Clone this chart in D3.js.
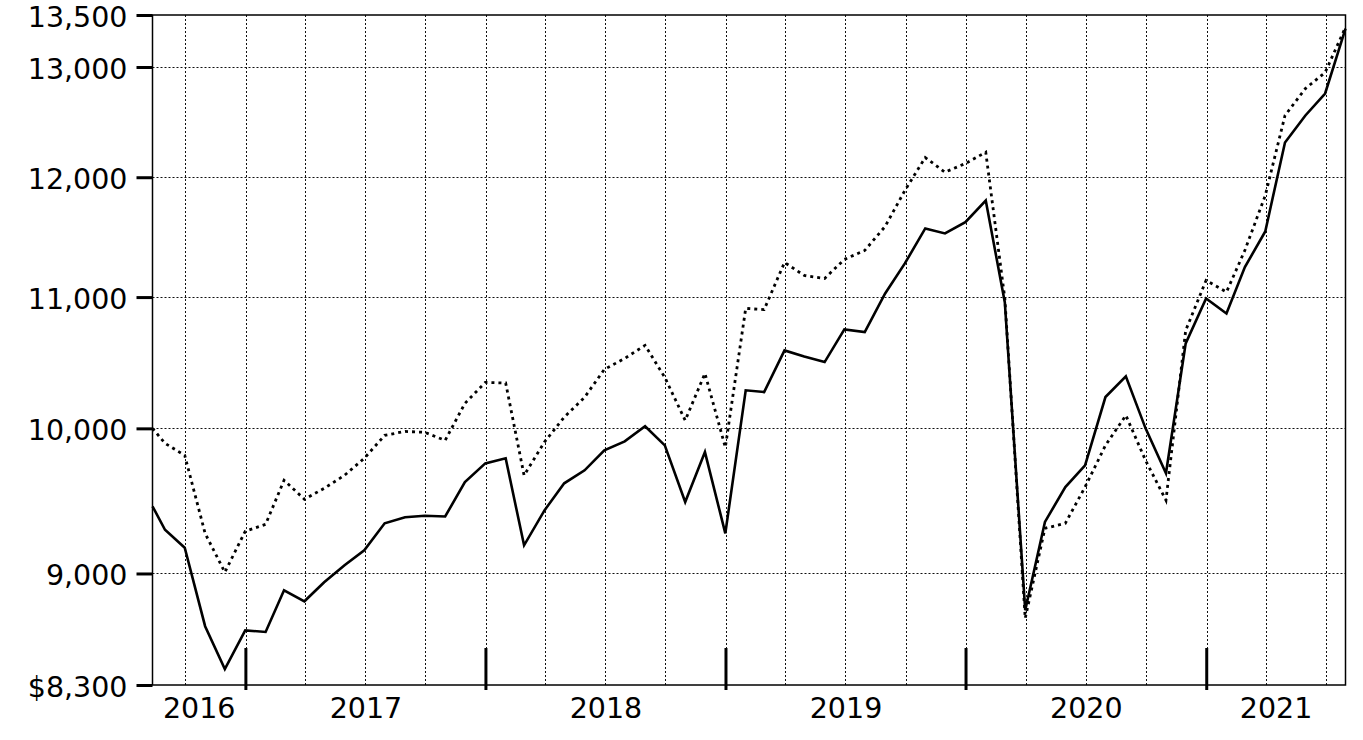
<!DOCTYPE html>
<html>
<head>
<meta charset="utf-8">
<script src="https://cdn.jsdelivr.net/npm/d3@7"></script>
<style>
  html, body { margin: 0; padding: 0; background: #fff; }
  svg { display: block; font-family: "DejaVu Sans", Verdana, sans-serif; }
</style>
</head>
<body>
<svg id="chart" width="1363" height="740"></svg>
<script>
// ---- data ----
const dates = [
  "2016-08-12","2016-08-31","2016-09-30","2016-10-31","2016-11-30","2016-12-31",
  "2017-01-31","2017-02-28","2017-03-31","2017-04-30","2017-05-31","2017-06-30",
  "2017-07-31","2017-08-31","2017-09-30","2017-10-31","2017-11-30","2017-12-31",
  "2018-01-31","2018-02-28","2018-03-31","2018-04-30","2018-05-31","2018-06-30",
  "2018-07-31","2018-08-31","2018-09-30","2018-10-31","2018-11-30","2018-12-31",
  "2019-01-31","2019-02-28","2019-03-31","2019-04-30","2019-05-31","2019-06-30",
  "2019-07-31","2019-08-31","2019-09-30","2019-10-31","2019-11-30","2019-12-31",
  "2020-01-31","2020-02-29","2020-03-31","2020-04-30","2020-05-31","2020-06-30",
  "2020-07-31","2020-08-31","2020-09-30","2020-10-31","2020-11-30","2020-12-31",
  "2021-01-31","2021-02-28","2021-03-31","2021-04-30","2021-05-31","2021-06-30",
  "2021-07-31"
];
const fundValues = [
  9450, 9290, 9170, 8662, 8396, 8636,
  8626, 8891, 8820, 8943, 9054, 9153, 9334, 9375, 9385, 9380, 9618, 9749,
  9785, 9186, 9422, 9609, 9700, 9842, 9906, 10015, 9877, 9479, 9829, 9266,
  10280, 10267, 10582, 10536, 10493, 10745, 10724, 11029, 11272, 11562, 11520, 11615,
  11799, 10957, 8763, 9343, 9583, 9735, 10230, 10385, 10000, 9679, 10636, 10989,
  10870, 11242, 11537, 12307, 12550, 12752, 13368
];
const indexValues = [
  10000, 9892, 9806, 9266, 9008, 9280,
  9327, 9630, 9498, 9574, 9665, 9785, 9949, 9978, 9971, 9913, 10183, 10339,
  10335, 9665, 9901, 10082, 10228, 10437, 10521, 10621, 10377, 10058, 10407, 9863,
  10910, 10900, 11280, 11174, 11150, 11305, 11379, 11579, 11885, 12173, 12044, 12120,
  12220, 10989, 8712, 9300, 9334, 9583, 9877, 10095, 9770, 9491, 10737, 11134,
  11040, 11380, 11842, 12550, 12798, 12948, 13380
];
const yTickValues = [8300, 9000, 10000, 11000, 12000, 13000, 13500];
const yTickLabels = ["$8,300", "9,000", "10,000", "11,000", "12,000", "13,000", "13,500"];
const yGridValues = [9000, 10000, 11000, 12000, 13000];
const yearLabels = ["2016", "2017", "2018", "2019", "2020", "2021"];

// ---- layout ----
const plotL = 152.5, plotR = 1345.5, plotT = 15, plotB = 685;
const parse = d3.utcParse("%Y-%m-%d");
const dts = dates.map(parse);

const x = d3.scaleUtc().domain([dts[0], dts[dts.length - 1]]).range([plotL, plotR]);
const y = d3.scaleLog().domain([8300, 13500]).range([plotB, plotT]);

const svg = d3.select("#chart");
svg.append("rect").attr("width", 1363).attr("height", 740).attr("fill", "#fff");

// grid: vertical quarterly lines
const quarters = d3.utcMonth.every(3).range(dts[0], dts[dts.length - 1]).filter(d => x(d) > plotL + 2 && x(d) < plotR - 2);
svg.append("g").selectAll("line").data(quarters).join("line")
  .attr("x1", d => Math.round(x(d)) + 0.5).attr("x2", d => Math.round(x(d)) + 0.5)
  .attr("y1", plotT).attr("y2", plotB)
  .attr("stroke", "#111").attr("stroke-width", 1).attr("stroke-dasharray", "2,2");

// grid: horizontal
svg.append("g").selectAll("line").data(yGridValues).join("line")
  .attr("x1", plotL).attr("x2", plotR)
  .attr("y1", d => Math.round(y(d)) + 0.5).attr("y2", d => Math.round(y(d)) + 0.5)
  .attr("stroke", "#111").attr("stroke-width", 1).attr("stroke-dasharray", "2,2");

// frame
svg.append("rect").attr("x", plotL).attr("y", plotT).attr("width", plotR - plotL).attr("height", plotB - plotT)
  .attr("fill", "none").attr("stroke", "#000").attr("stroke-width", 1.5);

// y axis
const yAxis = d3.axisLeft(y).tickValues(yTickValues)
  .tickFormat((d, i) => yTickLabels[i]).tickSize(16).tickPadding(9);
const gy = svg.append("g").attr("transform", `translate(${plotL},0)`).call(yAxis);
gy.select(".domain").remove();
gy.selectAll(".tick line").attr("stroke", "#000").attr("stroke-width", 3);
gy.selectAll(".tick text").attr("fill", "#000").attr("dy", "0.39em").style("font-size", "28.5px")
  .style("font-family", "'DejaVu Sans', Verdana, sans-serif");

// year ticks
const yearStarts = d3.utcYear.range(dts[0], dts[dts.length - 1]).filter(d => x(d) > plotL);
svg.append("g").selectAll("line").data(yearStarts).join("line")
  .attr("x1", d => x(d)).attr("x2", d => x(d))
  .attr("y1", plotB - 37).attr("y2", plotB + 5)
  .attr("stroke", "#000").attr("stroke-width", 3);

// year labels centered on visible span
svg.append("g").selectAll("text").data(yearLabels).join("text")
  .attr("x", d => {
    const s = new Date(Date.UTC(+d, 0, 1)), e = new Date(Date.UTC(+d + 1, 0, 1));
    const a = Math.max(x(s), plotL), b = Math.min(x(e), plotR);
    return (a + b) / 2;
  })
  .attr("y", 718)
  .attr("text-anchor", "middle")
  .style("font-size", "28.5px")
  .attr("fill", "#000")
  .text(d => d);

// lines
const line = d3.line().x((d, i) => x(dts[i])).y(d => y(d));
svg.append("path").datum(indexValues).attr("d", line)
  .attr("fill", "none").attr("stroke", "#000").attr("stroke-width", 2.8)
  .attr("stroke-dasharray", "3,4");
svg.append("path").datum(fundValues).attr("d", line)
  .attr("fill", "none").attr("stroke", "#000").attr("stroke-width", 2.6)
  .attr("stroke-linejoin", "miter");
</script>
</body>
</html>
